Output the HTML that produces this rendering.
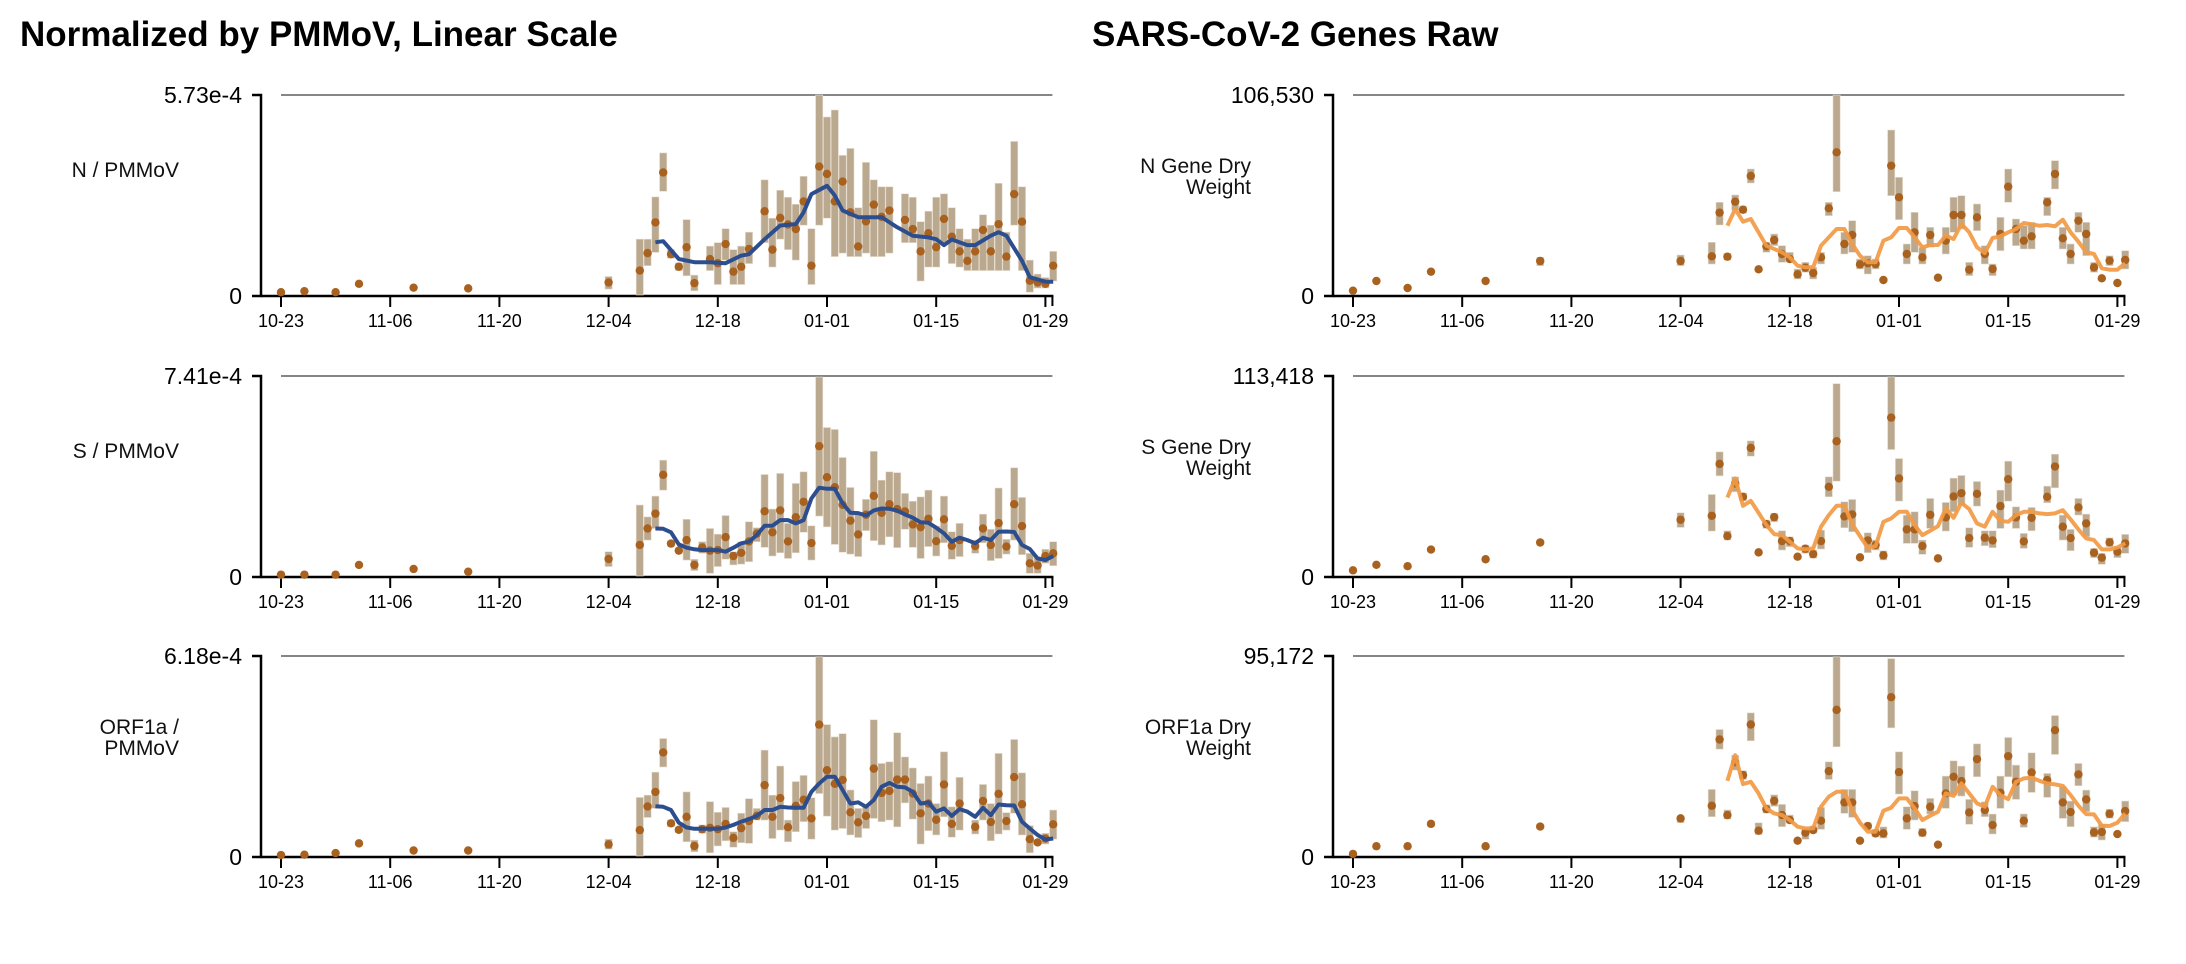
<!DOCTYPE html>
<html><head><meta charset="utf-8"><title>SARS-CoV-2 wastewater charts</title>
<style>
html,body{margin:0;padding:0;background:#fff;}
svg{display:block;font-family:"Liberation Sans",Arial,sans-serif;}
</style></head>
<body>
<svg id="root" width="2186" height="964" viewBox="0 0 2186 964" xmlns="http://www.w3.org/2000/svg">
<text x="20" y="46" font-size="35" font-weight="bold" fill="#000">Normalized by PMMoV, Linear Scale</text>
<text x="1092" y="46" font-size="35" font-weight="bold" fill="#000">SARS-CoV-2 Genes Raw</text>
</svg>
<script>
const tickDays = [0,14,28,42,56,70,84,98];
const tickLabels = ['10-23','11-06','11-20','12-04','12-18','01-01','01-15','01-29'];

const commonDays = [0,3,7,10,17,24,42,46,47,48,49,50,51,52,53,54,55,56,57,58,59,60,61,62,63,64,65,66,67,68,69,70,71,72,73,74,75,76,77,78,79,80,81,82,83,84,85,86,87,89,90,91,92,93,94,95,96,97,98,99];
const fullLineDays = [48,49,50,51,52,53,54,55,56,57,58,59,60,61,62,63,64,65,66,67,68,69,70,71,72,73,74,75,76,77,78,79,80,81,82,83,84,85,86,87,88,89,90,91,92,93,94,95,96,97,98,99];

// N / PMMoV (units 1e-6)
const nDays = [0,3,7,10,17,24,42,46,47,48,49,50,51,52,53,55,56,57,58,59,60,62,63,64,65,66,67,68,69,70,71,72,73,74,75,76,77,78,80,81,82,83,84,85,86,87,88,89,90,91,92,93,94,95,96,97,98,99];
const nVals = [8,11,8,32,21,19,36,70,120,208,351,117,81,137,34,103,91,146,67,81,132,240,130,221,202,189,268,84,368,347,268,325,237,139,211,259,224,242,215,189,125,177,137,218,167,125,98,125,186,125,203,110,289,210,41,36,32,84];
const nLo = [7,10,7,28,18,16,17,0,84,122,297,105,70,55,12,70,30,100,30,30,90,150,80,160,130,100,200,30,200,220,110,120,110,110,120,110,110,120,150,150,40,80,80,150,90,80,70,70,70,70,70,70,200,70,8,20,20,40];
const nHi = [9,12,9,36,24,22,53,160,160,281,407,130,92,216,57,140,150,190,130,140,180,330,220,300,280,260,340,190,573,510,530,400,420,250,380,330,310,310,290,280,210,240,280,290,250,190,160,190,230,200,320,180,440,310,100,60,50,125];
const nLineDays = [48,49,51,53,55,57,59,60,62,64,66,67,68,70,71,72,74,76,77,79,81,83,84,85,86,88,89,91,92,93,95,96,98,99];
const nLineVals = [151,154,103,94,94,91,113,117,160,199,203,237,289,313,285,242,223,223,223,194,170,165,160,143,159,143,143,170,180,170,98,51,38,38];

// S / PMMoV (units 1e-6)
const sVals = [5,5,5,41,26,16,63,115,176,231,375,120,94,133,41,106,94,96,144,74,86,128,157,240,162,243,128,218,275,122,481,366,329,264,205,154,227,297,234,266,248,239,191,181,212,129,210,112,133,111,176,115,196,109,266,185,47,39,74,84];
const sLo = [4,4,4,36,22,13,35,0,133,176,318,110,85,59,20,84,10,35,62,41,44,53,127,106,74,86,65,86,162,59,222,182,117,88,81,72,168,131,115,145,105,173,106,65,109,74,123,62,72,84,123,57,65,81,133,79,10,10,47,38];
const sHi = [6,6,6,46,30,19,90,263,219,296,429,130,103,210,62,127,176,155,224,90,127,201,179,376,248,380,195,343,386,186,737,550,543,439,328,232,284,462,355,386,383,306,277,293,318,185,296,164,195,133,229,173,326,136,401,291,84,72,99,127];
const sLineVals = [176,175,162,117,105,99,96,96,96,90,105,121,127,152,186,186,207,207,195,207,287,327,323,323,269,234,233,224,243,250,249,242,228,216,199,197,179,158,127,142,133,121,142,133,164,165,163,115,100,65,59,74];

// ORF1a / PMMoV (units 1e-6)
const oVals = [3,4,9,39,17,17,36,80,153,198,320,101,81,121,31,83,87,83,99,56,86,108,124,219,121,179,89,155,174,116,406,265,223,235,135,104,124,270,195,201,236,236,193,132,162,112,221,99,162,90,170,105,192,108,244,160,52,42,54,98];
const oLo = [2,3,7,34,14,14,21,0,119,147,275,90,72,44,13,70,10,31,47,27,41,39,111,111,54,80,44,75,106,52,193,123,80,85,65,57,85,116,106,111,90,164,114,37,78,65,121,58,80,68,111,47,68,80,132,65,10,36,37,52];
const oHi = [4,5,11,44,20,20,52,181,188,259,363,112,90,198,49,96,168,135,150,75,132,177,147,327,188,278,111,230,249,180,615,406,368,378,204,147,152,421,286,291,381,306,272,224,247,162,322,152,243,111,221,162,317,134,360,257,94,48,70,142];
const oLineVals = [154,152,142,103,88,84,84,84,84,88,96,106,114,124,142,142,152,150,149,149,198,224,245,245,204,162,166,152,173,214,226,214,212,198,162,166,137,147,124,145,137,121,149,126,159,157,156,106,85,65,51,54];

// N gene dry weight
const nrVals = [2300,7460,3730,12430,7460,18110,18110,20600,43860,20420,49710,45450,63390,13670,25920,29300,21840,19180,11010,14560,11720,20060,46160,75990,27170,31960,16330,16870,16510,7990,68890,52020,21840,33380,20060,31960,9230,28940,42610,42610,13490,41370,21840,13850,32490,57700,35150,28940,31250,49360,64450,30180,21840,39590,32490,14740,8880,18290,6390,18640];
const nrLo = [2100,6900,3400,11400,6900,15600,15600,16500,37290,18600,45100,43500,59660,12800,22730,26280,17400,17400,8520,12070,8520,16510,42260,55040,21840,22730,13850,11190,13850,7200,52910,40130,16510,22730,16510,25390,8500,21840,33380,35150,10300,34270,16510,10300,23610,49360,26280,24500,24500,42260,56460,24500,16510,33380,20950,12070,8000,15620,5800,13850];
const nrHi = [2500,8000,4000,13400,8000,20060,21300,28050,49360,22200,53270,47400,67110,14500,28050,32490,26280,22730,13850,17400,14740,22730,49360,106530,33380,39590,19180,20950,19180,8800,87890,62680,27170,44030,25390,36040,10000,36040,52020,52910,17400,48470,26280,16510,41370,67110,40480,36930,38710,52020,71550,36040,27170,44030,38710,17400,9700,20950,7000,23610];
const nrLineDays = [48,49,50,51,53,55,56,57,58,59,60,61,62,63,64,65,66,67,68,69,70,71,72,73,74,75,76,77,78,79,80,81,82,83,84,85,86,87,88,89,90,91,92,93,94,95,96,97,98,99];
const nrLineVals = [36930,45810,39060,40480,26280,22730,20060,15620,14740,14740,26280,30720,35150,35150,27170,20950,17400,17400,28940,30720,35690,35690,30720,25390,26630,26630,31600,29830,37820,33380,25390,22370,30360,31250,33380,35150,38350,37640,36930,37290,36580,40130,33380,28410,22730,21840,14200,13490,13490,16870];

// S gene dry weight
const srVals = [3200,6350,5550,15000,9500,19000,31890,34150,63590,22640,52460,44910,72650,13400,29440,33400,19810,19810,10940,15470,12450,19810,50570,76420,33780,34910,10570,20190,17550,11700,89820,55290,26420,26420,16980,34720,10000,33210,45100,46990,21510,46610,21700,20190,39630,54910,33210,19620,33020,44910,62080,27930,21510,38870,29810,13210,10380,19060,13780,18490];
const srLo = [2900,5800,5100,13800,8700,17500,27550,25470,56800,20380,47740,42650,67930,12500,26980,30760,14720,16610,10000,12830,10000,15280,44910,53780,27360,25100,9800,13210,14720,9060,71710,42460,18490,18490,12270,26980,9300,25470,36420,40000,16230,39630,17170,16040,26980,42460,26980,15660,25660,41510,50010,20380,14340,34530,22270,10380,6600,16610,10380,12830];
const srHi = [3500,6900,6000,16200,10300,20500,35850,46230,70380,25660,56230,47180,76610,14300,31700,35480,25660,22270,11900,17550,14720,26040,56230,109070,42080,43400,11400,24530,20380,14340,112840,66610,34530,36420,20380,43970,10800,41700,55480,56990,27360,53590,25660,25660,48680,65100,39250,24150,38870,50950,69060,34530,26420,43970,35100,15660,12830,21700,16610,23590];
const srLineVals = [44530,55290,39820,42650,35850,28870,23780,23210,19440,15660,15100,15660,27930,34530,39820,39820,29440,22640,16040,16980,30760,32650,36420,36420,28870,23210,25660,28310,38310,33020,41510,37930,29810,27930,36420,31320,30760,34530,36420,36420,35480,35100,35480,37360,32080,26420,21320,20380,15100,15100,16230,18490];

// ORF1a dry weight
const orVals = [1000,4650,4650,15300,4650,14000,17900,23920,55440,19480,44670,38490,62570,12040,22330,26290,19480,17110,7290,11090,12360,16790,40390,69540,25500,25500,7290,14260,10770,10770,75560,39920,17900,23760,11090,23440,5390,29780,37700,35640,20750,46090,21860,14730,30100,47520,35320,16790,39760,36120,59880,25500,20910,38810,26930,11250,11400,20120,10450,21380];
const orLo = [900,4250,4250,14100,4250,12900,15840,18690,50850,17500,40870,36400,54810,10200,20400,23600,13940,15500,6600,7920,10800,12670,36430,51960,20280,18370,6600,12700,9100,8500,60980,29460,12670,17110,9200,19960,4800,22650,28990,28510,15050,37700,18700,10450,22650,37700,26930,13600,30250,27880,48310,17900,13940,33420,21070,8900,7600,17900,9800,16320];
const orHi = [1100,5050,5050,16500,5050,15100,18690,31680,60190,21900,47990,40600,68110,15800,24400,29100,24550,19500,8000,13150,14300,23130,44830,94720,31680,31680,8000,15900,12700,13900,93930,49580,23440,31050,13150,27400,6000,38020,45300,42770,26930,53380,25800,19960,38020,56390,43240,20000,49100,39280,66840,32950,26140,44040,31360,13900,15200,22300,11100,26140];
const orLineVals = [35800,47990,34210,35320,29780,22650,20280,19480,17110,13940,13150,13150,23440,28200,30570,30570,21860,15840,11560,11560,21540,22970,27400,27400,22650,17110,19170,21070,29780,28670,34530,29780,25030,23440,32950,28990,27090,35320,36910,37220,35800,34530,34060,33420,28990,23920,19960,19800,14410,14260,15840,20280];

const NS = 'http://www.w3.org/2000/svg';
const root = document.getElementById('root');
const DAY_PX = 7.8, DOMAIN_END = 98.9, PLOT_H = 200;

function mk(tag, attrs, parent) {
  const el = document.createElementNS(NS, tag);
  for (const k in attrs) el.setAttribute(k, attrs[k]);
  parent.appendChild(el);
  return el;
}

function chart(c) {
  const g = mk('g', {}, root);
  
  
  const base = c.top + PLOT_H;
  const x = d => c.x0 + d * DAY_PX;
  const y = v => base - Math.max(0, Math.min(v, c.max)) / c.max * PLOT_H;
  const axisX = c.x0 - 20;
  const xEnd = x(DOMAIN_END);

  const grid = mk('line', {x1: x(0), x2: xEnd, y1: c.top, y2: c.top, stroke: '#868686', 'stroke-width': 2}, g);
  
  

  const lab = mk('text', {x: c.labelX, y: 0, 'font-size': 21, 'text-anchor': 'end', fill: '#111'}, g);
  
  
  c.label.forEach((line, i) => {
    const cy = c.label.length === 1 ? c.top + 75 : c.top + 71 + i * 21;
    const t = mk('tspan', {x: c.labelX, y: cy + 7}, lab);
    t.textContent = line;
  });

  const ya = mk('path', {d: `M${axisX - 9},${c.top}H${axisX}V${base + 1}H${axisX - 9}`, fill: 'none', stroke: '#000', 'stroke-width': 2.5}, g);
  
  
  const ytTop = mk('text', {x: axisX - 19, y: c.top + 8, 'font-size': 23, 'text-anchor': 'end', fill: '#000'}, g);
  
  
  ytTop.textContent = c.maxLabel;
  const ytZero = mk('text', {x: axisX - 19, y: base + 9, 'font-size': 23, 'text-anchor': 'end', fill: '#000'}, g);
  
  
  ytZero.textContent = '0';

  const xa = mk('line', {x1: axisX, x2: xEnd + 1, y1: base + 1, y2: base + 1, stroke: '#000', 'stroke-width': 2.5}, g);
  
  
  const endTick = mk('line', {x1: xEnd, x2: xEnd, y1: base + 1, y2: base + 11, stroke: '#000', 'stroke-width': 2}, g);
  
  
  tickDays.forEach((d, i) => {
    const tk = mk('line', {x1: x(d), x2: x(d), y1: base + 1, y2: base + 12, stroke: '#000', 'stroke-width': 2}, g);
    
    
    const tl = mk('text', {x: x(d), y: base + 32, 'font-size': 18, 'text-anchor': 'middle', fill: '#000'}, g);
    
    
    tl.textContent = tickLabels[i];
  });

  c.days.forEach((d, i) => {
    const top = y(c.hi[i]), bot = y(c.lo[i]);
    const r = mk('rect', {x: x(d) - 3.6, y: top, width: 7.2, height: Math.max(1, bot - top), fill: '#bba98f', stroke: '#e6dccd', 'stroke-width': 0.6}, g);
    
    
  });
  c.days.forEach((d, i) => {
    const p = mk('circle', {cx: x(d), cy: y(c.vals[i]), r: 4.2, fill: '#a8611f'}, g);
    
    
  });
  const dstr = c.lineDays.map((d, i) => (i ? 'L' : 'M') + x(d).toFixed(1) + ',' + y(c.lineVals[i]).toFixed(1)).join('');
  const ln = mk('path', {d: dstr, fill: 'none', stroke: c.lineColor, 'stroke-width': 4, 'stroke-linejoin': 'round', opacity: c.lineOpacity}, g);
  
  
}

const BLUE = '#2d4e8e', ORANGE = '#f29a45';
chart({name: 'n-pmmov-chart', x0: 281, top: 95, max: 573, maxLabel: '5.73e-4', label: ['N / PMMoV'], labelX: 179,
  days: nDays, vals: nVals, lo: nLo, hi: nHi, lineDays: nLineDays, lineVals: nLineVals, lineColor: BLUE, lineOpacity: 1});
chart({name: 's-pmmov-chart', x0: 281, top: 376, max: 741, maxLabel: '7.41e-4', label: ['S / PMMoV'], labelX: 179,
  days: commonDays, vals: sVals, lo: sLo, hi: sHi, lineDays: fullLineDays, lineVals: sLineVals, lineColor: BLUE, lineOpacity: 1});
chart({name: 'orf1a-pmmov-chart', x0: 281, top: 656, max: 618, maxLabel: '6.18e-4', label: ['ORF1a /', 'PMMoV'], labelX: 179,
  days: commonDays, vals: oVals, lo: oLo, hi: oHi, lineDays: fullLineDays, lineVals: oLineVals, lineColor: BLUE, lineOpacity: 1});
chart({name: 'n-gene-raw-chart', x0: 1353, top: 95, max: 106530, maxLabel: '106,530', label: ['N Gene Dry', 'Weight'], labelX: 1251,
  days: commonDays, vals: nrVals, lo: nrLo, hi: nrHi, lineDays: nrLineDays, lineVals: nrLineVals, lineColor: ORANGE, lineOpacity: 0.92});
chart({name: 's-gene-raw-chart', x0: 1353, top: 376, max: 113418, maxLabel: '113,418', label: ['S Gene Dry', 'Weight'], labelX: 1251,
  days: commonDays, vals: srVals, lo: srLo, hi: srHi, lineDays: fullLineDays, lineVals: srLineVals, lineColor: ORANGE, lineOpacity: 0.92});
chart({name: 'orf1a-raw-chart', x0: 1353, top: 656, max: 95172, maxLabel: '95,172', label: ['ORF1a Dry', 'Weight'], labelX: 1251,
  days: commonDays, vals: orVals, lo: orLo, hi: orHi, lineDays: fullLineDays, lineVals: orLineVals, lineColor: ORANGE, lineOpacity: 0.92});
</script>
</body></html>
